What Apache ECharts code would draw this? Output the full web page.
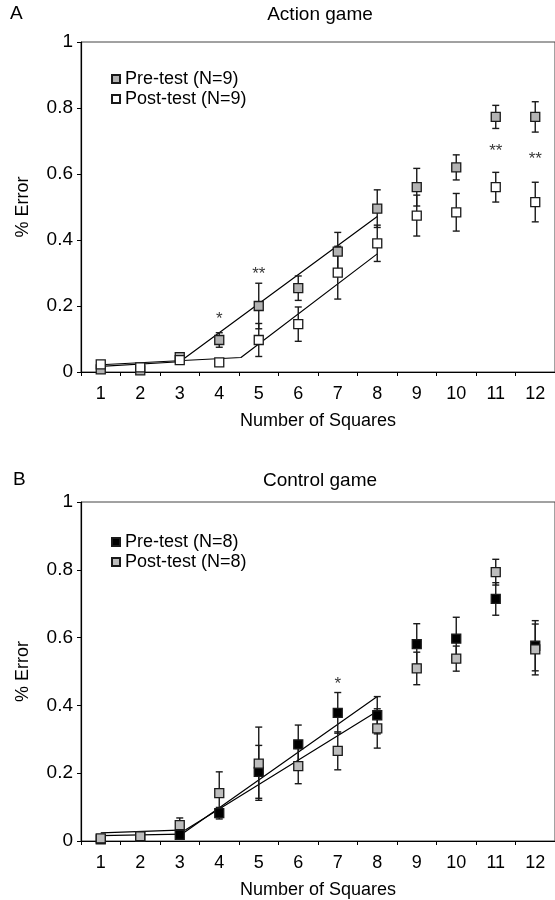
<!DOCTYPE html>
<html>
<head>
<meta charset="utf-8">
<title>Number of Squares</title>
<script src="https://cdn.jsdelivr.net/npm/echarts@6/dist/echarts.min.js"></script>
<style>
  html, body { margin: 0; padding: 0; background: #fff; }
  #chart { width: 555px; height: 900px; }
</style>
</head>
<body>
<div id="chart"></div>
<script>
// number of squares (x categories)
const squares = [1, 2, 3, 4, 5, 6, 7, 8, 9, 10, 11, 12];
const squareLabels = squares.map(String);

// A - action game, mean error and error bar half-length
const actionPre = [0.008, 0.005, 0.045, 0.097, 0.200, 0.254, 0.365, 0.495, 0.560, 0.620, 0.773, 0.773];
const actionPreErr = [0.005, 0.005, 0.009, 0.022, 0.069, 0.037, 0.058, 0.057, 0.057, 0.038, 0.035, 0.046];
const actionPost = [0.023, 0.014, 0.036, 0.029, 0.097, 0.145, 0.301, 0.390, 0.474, 0.484, 0.560, 0.515];
const actionPostErr = [0.005, 0.005, 0.007, 0.006, 0.050, 0.052, 0.080, 0.055, 0.062, 0.057, 0.045, 0.060];
// fitted lines (break points)
const actionPreFitX = [1, 3, 8];
const actionPreFitY = [0.017, 0.031, 0.471];
const actionPostFitX = [1, 4.55, 8];
const actionPostFitY = [0.022, 0.044, 0.358];
// significance marks [x, y, text]
const actionStars = [[4, 0.160, '*'], [5, 0.296, '**'], [11, 0.670, '**'], [12, 0.645, '**']];

// B - control game
const controlPre = [0.005, 0.012, 0.018, 0.082, 0.204, 0.285, 0.378, 0.371, 0.581, 0.597, 0.714, 0.576];
const controlPreErr = [0.003, 0.003, 0.008, 0.017, 0.078, 0.057, 0.060, 0.055, 0.060, 0.063, 0.048, 0.074];
const controlPost = [0.008, 0.014, 0.047, 0.141, 0.228, 0.221, 0.266, 0.332, 0.509, 0.538, 0.793, 0.565];
const controlPostErr = [0.003, 0.003, 0.021, 0.063, 0.108, 0.052, 0.056, 0.058, 0.048, 0.037, 0.038, 0.075];
const controlPreFitX = [1, 3.05, 8];
const controlPreFitY = [0.016, 0.020, 0.426];
const controlPostFitX = [1, 3.15, 8];
const controlPostFitY = [0.024, 0.033, 0.383];
const controlStars = [[7, 0.462, '*']];

const FONT = '"Liberation Sans", Arial, Helvetica, sans-serif';

function pairs(xs, ys) {
  return xs.map((x, i) => [x, ys[i]]);
}

function errRange(means, errs) {
  return squares.map((x, i) => [x, means[i] - errs[i], means[i] + errs[i]]);
}

// error bar: vertical line with two caps
function renderErrorBar(params, api) {
  const x = api.value(0);
  const lo = api.coord([x, api.value(1)]);
  const hi = api.coord([x, api.value(2)]);
  const cap = 3.5;
  const style = { stroke: '#1a1a1a', lineWidth: 1.4 };
  return {
    type: 'group',
    children: [
      { type: 'line', shape: { x1: hi[0], y1: hi[1], x2: lo[0], y2: lo[1] }, style },
      { type: 'line', shape: { x1: hi[0] - cap, y1: hi[1], x2: hi[0] + cap, y2: hi[1] }, style },
      { type: 'line', shape: { x1: lo[0] - cap, y1: lo[1], x2: lo[0] + cap, y2: lo[1] }, style }
    ]
  };
}

function errorSeries(xAxisIndex, yAxisIndex, means, errs) {
  return {
    type: 'custom',
    xAxisIndex, yAxisIndex,
    renderItem: renderErrorBar,
    encode: { x: 0, y: [1, 2] },
    data: errRange(means, errs),
    z: 3,
    silent: true
  };
}

function markerSeries(name, xAxisIndex, yAxisIndex, means, fill, z) {
  return {
    name,
    type: 'scatter',
    xAxisIndex, yAxisIndex,
    symbol: 'rect',
    symbolSize: 9,
    itemStyle: { color: fill, borderColor: '#1a1a1a', borderWidth: 1.3, opacity: 1 },
    data: pairs(squares, means),
    z
  };
}

function fitSeries(xAxisIndex, yAxisIndex, xs, ys) {
  return {
    type: 'line',
    xAxisIndex, yAxisIndex,
    data: pairs(xs, ys),
    symbol: 'none',
    lineStyle: { color: '#000', width: 1.2 },
    z: 2,
    silent: true
  };
}

function starSeries(xAxisIndex, yAxisIndex, stars) {
  return {
    type: 'scatter',
    xAxisIndex, yAxisIndex,
    symbolSize: 1,
    itemStyle: { color: 'rgba(0,0,0,0)' },
    label: {
      show: true,
      position: 'inside',
      formatter: p => p.value[2],
      fontSize: 17,
      color: '#000',
      fontFamily: FONT
    },
    data: stars,
    silent: true
  };
}

function catAxis(gridIndex) {
  return {
    type: 'category',
    gridIndex,
    data: squareLabels,
    boundaryGap: true,
    name: 'Number of Squares',
    nameLocation: 'middle',
    nameGap: 40,
    nameTextStyle: { fontSize: 18, color: '#000', fontFamily: FONT },
    axisLine: { lineStyle: { color: '#000', width: 1.2 } },
    axisTick: { show: true, inside: false, length: 4, lineStyle: { color: '#000' } },
    axisLabel: { interval: 0, fontSize: 18, color: '#000', margin: 13, fontFamily: FONT },
    splitLine: { show: false }
  };
}

// hidden value axis that places the marks
function valueXAxis(gridIndex) {
  return { type: 'value', gridIndex, min: 0.5, max: 12.5, show: false };
}

function errorYAxis(gridIndex) {
  return {
    type: 'value',
    gridIndex,
    min: 0,
    max: 1,
    interval: 0.2,
    name: '% Error',
    nameLocation: 'middle',
    nameGap: 49,
    nameTextStyle: { fontSize: 18, color: '#000', fontFamily: FONT },
    axisLine: { show: true, lineStyle: { color: '#000', width: 1.2 } },
    axisTick: { show: true, inside: false, length: 4, lineStyle: { color: '#000' } },
    axisLabel: { fontSize: 19, color: '#000', margin: 8, fontFamily: FONT },
    splitLine: { show: false }
  };
}

function legendBox(top, names) {
  return {
    data: names,
    orient: 'vertical',
    left: 106,
    top,
    icon: 'rect',
    itemWidth: 8,
    itemHeight: 8,
    itemGap: 2,
    selectedMode: false,
    textStyle: { fontSize: 18, color: '#000', fontFamily: FONT }
  };
}

const chart = echarts.init(document.getElementById('chart'));

const option = {
  animation: false,
  backgroundColor: '#fff',
  grid: [
    { left: 81, top: 42, width: 478, height: 330, show: true, borderColor: '#444', borderWidth: 1 },
    { left: 81, top: 502, width: 478, height: 340, show: true, borderColor: '#444', borderWidth: 1 }
  ],
  xAxis: [catAxis(0), valueXAxis(0), catAxis(1), valueXAxis(1)],
  yAxis: [errorYAxis(0), errorYAxis(1)],
  legend: [
    legendBox(65, ['Pre-test (N=9)', 'Post-test (N=9)']),
    legendBox(528, ['Pre-test (N=8)', 'Post-test (N=8)'])
  ],
  graphic: [
    { type: 'text', left: 10, top: 4, style: { text: 'A', fontSize: 19, fill: '#000', fontFamily: FONT } },
    { type: 'text', x: 320, y: 15, style: { text: 'Action game', fontSize: 19, fill: '#000', fontFamily: FONT, align: 'center', verticalAlign: 'middle' } },
    { type: 'text', left: 13, top: 470, style: { text: 'B', fontSize: 19, fill: '#000', fontFamily: FONT } },
    { type: 'text', x: 320, y: 481, style: { text: 'Control game', fontSize: 19, fill: '#000', fontFamily: FONT, align: 'center', verticalAlign: 'middle' } }
  ],
  series: [
    // panel A
    fitSeries(1, 0, actionPreFitX, actionPreFitY),
    fitSeries(1, 0, actionPostFitX, actionPostFitY),
    errorSeries(1, 0, actionPre, actionPreErr),
    errorSeries(1, 0, actionPost, actionPostErr),
    markerSeries('Pre-test (N=9)', 1, 0, actionPre, '#b3b3b3', 4),
    markerSeries('Post-test (N=9)', 1, 0, actionPost, '#ffffff', 5),
    starSeries(1, 0, actionStars),
    // panel B
    fitSeries(3, 1, controlPreFitX, controlPreFitY),
    fitSeries(3, 1, controlPostFitX, controlPostFitY),
    errorSeries(3, 1, controlPre, controlPreErr),
    errorSeries(3, 1, controlPost, controlPostErr),
    markerSeries('Pre-test (N=8)', 3, 1, controlPre, '#000000', 4),
    markerSeries('Post-test (N=8)', 3, 1, controlPost, '#bdbdbd', 5),
    starSeries(3, 1, controlStars)
  ]
};

chart.setOption(option);

window.addEventListener('resize', () => {
  chart.resize();
});
</script>
</body>
</html>
